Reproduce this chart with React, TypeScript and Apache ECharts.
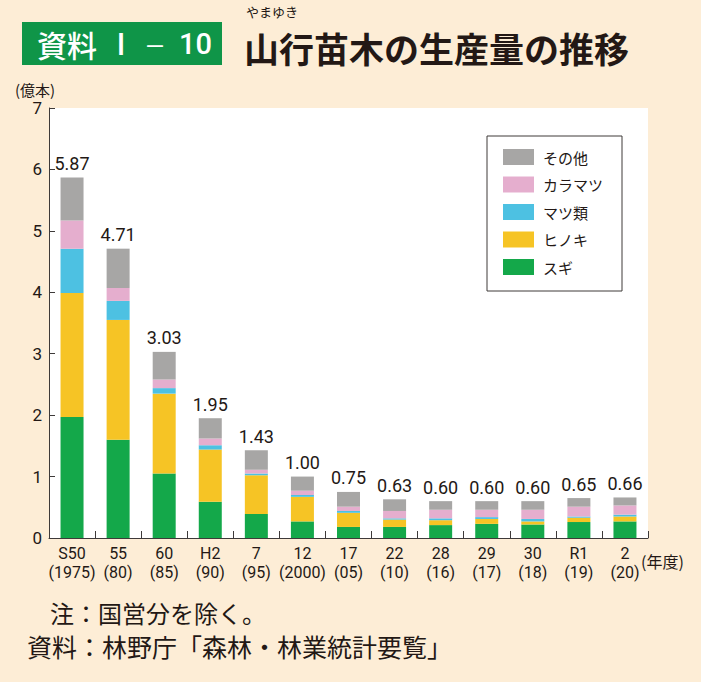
import React, { useEffect, useRef } from "react";
import * as echarts from "echarts";

const categories = [
  "S50\n(1975)", "55\n(80)", "60\n(85)", "H2\n(90)", "7\n(95)", "12\n(2000)",
  "17\n(05)", "22\n(10)", "28\n(16)", "29\n(17)", "30\n(18)", "R1\n(19)", "2\n(20)",
];
const sugi = [1.97, 1.60, 1.05, 0.59, 0.39, 0.27, 0.18, 0.18, 0.21, 0.23, 0.22, 0.26, 0.27];
const hinoki = [2.02, 1.95, 1.30, 0.85, 0.63, 0.40, 0.23, 0.12, 0.08, 0.08, 0.05, 0.07, 0.08];
const matsu = [0.72, 0.31, 0.09, 0.07, 0.03, 0.03, 0.03, 0.02, 0.03, 0.03, 0.04, 0.02, 0.03];
const karamatsu = [0.46, 0.21, 0.14, 0.11, 0.06, 0.07, 0.07, 0.12, 0.14, 0.12, 0.15, 0.16, 0.15];
const sonota = [0.70, 0.64, 0.45, 0.33, 0.32, 0.23, 0.24, 0.19, 0.14, 0.14, 0.14, 0.14, 0.13];
const totalLabels = ["5.87", "4.71", "3.03", "1.95", "1.43", "1.00", "0.75", "0.63", "0.60", "0.60", "0.60", "0.65", "0.66"];
const yTicks = [0, 1, 2, 3, 4, 5, 6, 7];

const TEXT = "#231815";
const AXIS = "#3E3A39";
const JP = "'Noto Sans CJK JP', 'Noto Sans', sans-serif";
const NUM = "Roboto, 'Noto Sans CJK JP', sans-serif";

const txt = (x: number, y: number, text: string, fontSize: number, extra: any = {}) => ({
  type: "text",
  x,
  y,
  style: {
    text,
    fill: TEXT,
    fontSize,
    lineHeight: fontSize,
    fontFamily: JP,
    align: "left",
    verticalAlign: "middle",
    ...extra,
  },
});

export default function App() {
  const ref = useRef<HTMLDivElement>(null);
  useEffect(() => {
    if (!ref.current) return;
    const chart = echarts.init(ref.current, null, { renderer: "svg" });
    const mk = (name: string, data: number[], color: string, withLabel = false) => ({
      name,
      type: "bar",
      stack: "total",
      data,
      barWidth: 23,
      itemStyle: { color },
      label: withLabel
        ? {
            show: true,
            position: "top",
            distance: 5,
            formatter: (p: any) => totalLabels[p.dataIndex],
            fontFamily: NUM,
            fontSize: 18,
            color: TEXT,
          }
        : { show: false },
    });
    chart.setOption({
      animation: false,
      backgroundColor: "#FDEDD6",
      textStyle: { fontFamily: JP },
      grid: {
        left: 49,
        right: 53,
        top: 108,
        bottom: 144,
        show: true,
        backgroundColor: "#ffffff",
        borderWidth: 0,
      },
      legend: {
        orient: "vertical",
        left: 487,
        top: 136,
        padding: [13, 19, 16, 16],
        itemWidth: 31,
        itemHeight: 16,
        itemGap: 11.5,
        borderColor: AXIS,
        borderWidth: 1,
        backgroundColor: "#ffffff",
        icon: "rect",
        data: ["その他", "カラマツ", "マツ類", "ヒノキ", "スギ"],
        textStyle: { fontSize: 15, color: TEXT, fontFamily: JP, padding: [0, 0, 0, 4] },
      },
      xAxis: {
        type: "category",
        data: categories,
        axisLine: { lineStyle: { color: AXIS, width: 1 } },
        axisTick: { show: true, inside: true, length: 7, alignWithLabel: false, lineStyle: { color: AXIS } },
        axisLabel: {
          interval: 0,
          margin: 6,
          fontSize: 16,
          lineHeight: 19,
          color: TEXT,
          fontFamily: NUM,
        },
      },
      yAxis: {
        type: "value",
        min: 0,
        max: 7,
        interval: 1,
        splitLine: { show: false },
        axisLine: { show: true, lineStyle: { color: AXIS, width: 1 } },
        axisTick: { show: true, inside: true, length: 6, lineStyle: { color: AXIS } },
        axisLabel: {
          margin: 7,
          fontSize: 17,
          color: TEXT,
          fontFamily: NUM,
          formatter: (v: number) => (yTicks.includes(v) ? String(v) : ""),
        },
      },
      graphic: [
        {
          type: "rect",
          shape: { x: 22, y: 22, width: 200, height: 43 },
          style: { fill: "#0F9548" },
        },
        txt(37, 44, "資料", 30, { fill: "#ffffff", fontWeight: 500 }),
        txt(121, 44, "Ⅰ", 30, { fill: "#ffffff", fontWeight: 500, align: "center", fontFamily: NUM }),
        txt(155, 44, "－", 22, { fill: "#ffffff", fontWeight: 500, align: "center" }),
        txt(179, 44, "10", 29, { fill: "#ffffff", fontWeight: 500, fontFamily: NUM }),
        txt(246, 11, "やまゆき", 13),
        txt(244, 47, "山行苗木の生産量の推移", 35, { fontWeight: "bold" }),
        txt(15, 89, "(億本)", 15),
        txt(641, 561, "(年度)", 16),
        txt(50, 612, "注：国営分を除く。", 24),
        txt(27, 646, "資料：林野庁「森林・林業統計要覧」", 25),
      ],
      series: [
        mk("スギ", sugi, "#14A84A"),
        mk("ヒノキ", hinoki, "#F6C425"),
        mk("マツ類", matsu, "#4DC1E2"),
        mk("カラマツ", karamatsu, "#E5AECE"),
        mk("その他", sonota, "#A7A6A5", true),
      ],
    });
    return () => chart.dispose();
  }, []);
  return (
    <div
      ref={ref}
      style={{ position: "fixed", left: 0, top: 0, width: 701, height: 682 }}
    />
  );
}
